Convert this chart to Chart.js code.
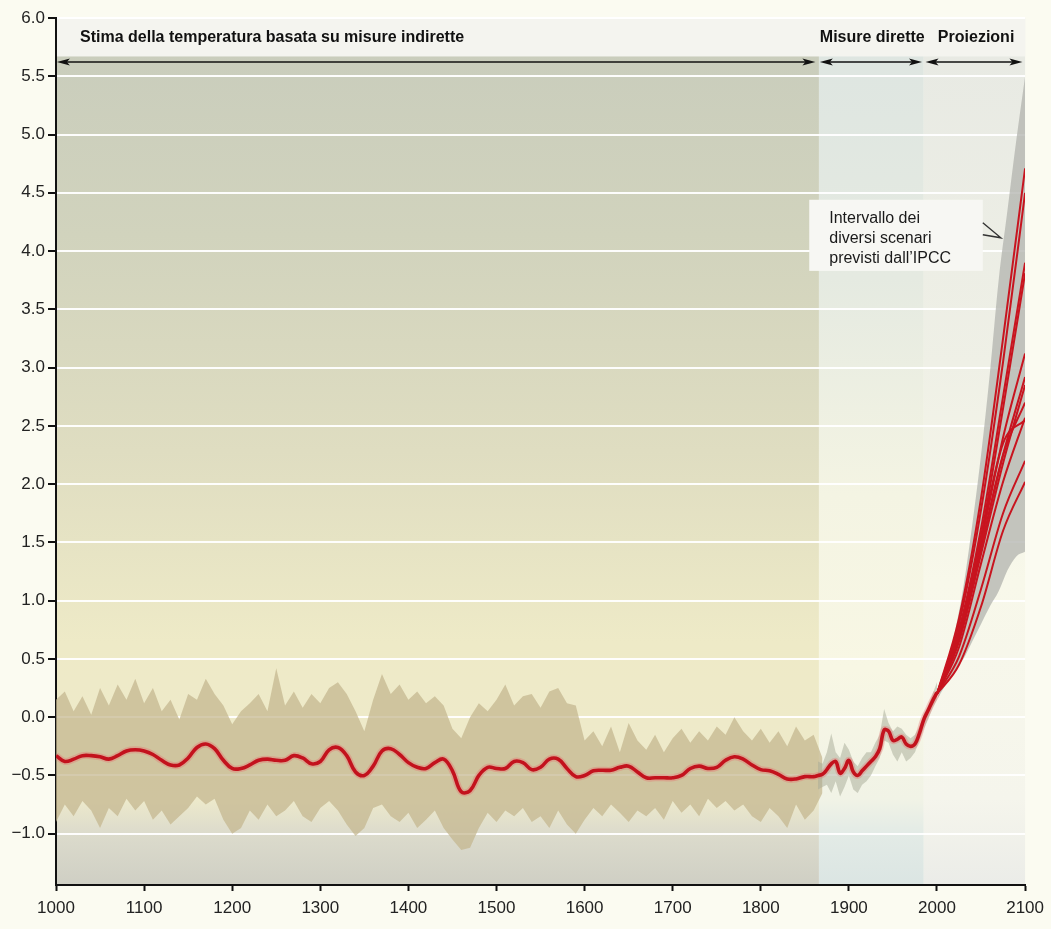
<!DOCTYPE html>
<html>
<head>
<meta charset="utf-8">
<script src="https://cdn.jsdelivr.net/npm/chart.js@4.4.1/dist/chart.umd.min.js"></script>
<style>
  html, body { margin: 0; padding: 0; background: #fbfbf1; }
  canvas { display: block; }
</style>
</head>
<body>
<canvas id="tempChart" width="1051" height="929"></canvas>
<script>
// Proxy reconstruction envelope (decadal)
const proxyYears = [1000, 1010, 1020, 1030, 1040, 1050, 1060, 1070, 1080, 1090,
  1100, 1110, 1120, 1130, 1140, 1150, 1160, 1170, 1180, 1190,
  1200, 1210, 1220, 1230, 1240, 1250, 1260, 1270, 1280, 1290,
  1300, 1310, 1320, 1330, 1340, 1350, 1360, 1370, 1380, 1390,
  1400, 1410, 1420, 1430, 1440, 1450, 1460, 1470, 1480, 1490,
  1500, 1510, 1520, 1530, 1540, 1550, 1560, 1570, 1580, 1590,
  1600, 1610, 1620, 1630, 1640, 1650, 1660, 1670, 1680, 1690,
  1700, 1710, 1720, 1730, 1740, 1750, 1760, 1770, 1780, 1790,
  1800, 1810, 1820, 1830, 1840, 1850, 1860, 1870];
const proxyUpper = [0.15, 0.22, 0.05, 0.18, 0.02, 0.25, 0.10, 0.28, 0.15, 0.33,
  0.12, 0.25, 0.05, 0.15, -0.02, 0.20, 0.15, 0.33, 0.20, 0.10,
  -0.06, 0.05, 0.12, 0.20, 0.05, 0.42, 0.10, 0.22, 0.08, 0.20,
  0.12, 0.25, 0.30, 0.20, 0.05, -0.12, 0.15, 0.37, 0.20, 0.28,
  0.15, 0.22, 0.12, 0.18, 0.10, -0.10, -0.18, 0.00, 0.12, 0.05,
  0.15, 0.28, 0.10, 0.18, 0.20, 0.08, 0.22, 0.25, 0.12, 0.10,
  -0.20, -0.12, -0.25, -0.08, -0.30, -0.05, -0.20, -0.28, -0.15, -0.30,
  -0.18, -0.10, -0.22, -0.12, -0.20, -0.08, -0.15, 0.00, -0.12, -0.20,
  -0.10, -0.22, -0.12, -0.25, -0.08, -0.20, -0.15, -0.35];
const proxyLower = [-0.90, -0.75, -0.85, -0.72, -0.80, -0.95, -0.78, -0.85, -0.70, -0.80,
  -0.72, -0.88, -0.80, -0.92, -0.85, -0.78, -0.68, -0.75, -0.70, -0.88,
  -1.00, -0.95, -0.80, -0.88, -0.75, -0.85, -0.80, -0.72, -0.85, -0.90,
  -0.78, -0.72, -0.80, -0.92, -1.02, -0.95, -0.78, -0.75, -0.85, -0.90,
  -0.82, -0.95, -0.88, -0.80, -0.95, -1.05, -1.14, -1.12, -0.95, -0.82,
  -0.90, -0.80, -0.85, -0.78, -0.90, -0.85, -0.95, -0.80, -0.92, -1.00,
  -0.88, -0.78, -0.85, -0.75, -0.82, -0.90, -0.80, -0.85, -0.78, -0.88,
  -0.72, -0.82, -0.75, -0.85, -0.70, -0.78, -0.72, -0.80, -0.75, -0.85,
  -0.90, -0.78, -0.85, -0.95, -0.75, -0.88, -0.80, -0.65];

// Instrumental variability band
const instYears = [1865, 1870, 1875, 1880, 1885, 1890, 1895, 1900, 1905, 1910,
  1915, 1920, 1925, 1930, 1935, 1940, 1945, 1950, 1955, 1960,
  1965, 1970, 1975, 1980, 1985, 1990, 1995, 2000];
const instUpper = [-0.38, -0.40, -0.30, -0.14, -0.30, -0.35, -0.22, -0.28, -0.38, -0.42,
  -0.35, -0.30, -0.30, -0.22, -0.15, 0.07, -0.05, -0.12, -0.08, -0.10,
  -0.15, -0.18, -0.15, -0.08, 0.03, 0.10, 0.20, 0.30];
const instLower = [-0.62, -0.60, -0.58, -0.65, -0.55, -0.68, -0.60, -0.50, -0.62, -0.65,
  -0.58, -0.55, -0.50, -0.42, -0.35, -0.20, -0.22, -0.32, -0.38, -0.30,
  -0.38, -0.35, -0.30, -0.20, -0.10, -0.02, 0.08, 0.15];

// Smoothed temperature curve
const lineYears = [1000, 1010, 1020, 1030, 1040, 1050, 1060, 1070, 1080, 1090,
  1100, 1110, 1120, 1130, 1140, 1150, 1160, 1170, 1180, 1190,
  1200, 1210, 1220, 1230, 1240, 1250, 1260, 1270, 1280, 1290,
  1300, 1310, 1320, 1330, 1340, 1350, 1360, 1370, 1380, 1390,
  1400, 1410, 1420, 1430, 1440, 1450, 1460, 1470, 1480, 1490,
  1500, 1510, 1520, 1530, 1540, 1550, 1560, 1570, 1580, 1590,
  1600, 1610, 1620, 1630, 1640, 1650, 1660, 1670, 1680, 1690,
  1700, 1710, 1720, 1730, 1740, 1750, 1760, 1770, 1780, 1790,
  1800, 1810, 1820, 1830, 1840, 1850, 1860, 1865, 1870, 1875,
  1880, 1885, 1890, 1895, 1900, 1905, 1910, 1915, 1920, 1925,
  1930, 1935, 1940, 1945, 1950, 1955, 1960, 1965, 1970, 1975,
  1980, 1985, 1990, 1995, 2000];
const lineTemp = [-0.33, -0.38, -0.36, -0.33, -0.33, -0.34, -0.36, -0.33, -0.29, -0.28,
  -0.29, -0.32, -0.37, -0.41, -0.41, -0.35, -0.26, -0.23, -0.27, -0.37,
  -0.44, -0.44, -0.41, -0.37, -0.36, -0.37, -0.37, -0.33, -0.35, -0.40,
  -0.38, -0.28, -0.26, -0.33, -0.47, -0.50, -0.42, -0.29, -0.27, -0.32,
  -0.39, -0.43, -0.44, -0.39, -0.36, -0.46, -0.64, -0.63, -0.50, -0.43,
  -0.44, -0.44, -0.38, -0.39, -0.45, -0.43, -0.36, -0.36, -0.44, -0.51,
  -0.50, -0.46, -0.455, -0.455, -0.43, -0.42, -0.47, -0.52, -0.52, -0.52,
  -0.52, -0.50, -0.44, -0.42, -0.44, -0.43, -0.37, -0.34, -0.36, -0.41,
  -0.45, -0.46, -0.49, -0.53, -0.53, -0.51, -0.51, -0.50, -0.49, -0.45,
  -0.40, -0.38, -0.48, -0.44, -0.37, -0.47, -0.50, -0.46, -0.42, -0.38,
  -0.34, -0.27, -0.11, -0.12, -0.20, -0.19, -0.17, -0.23, -0.25, -0.23,
  -0.14, -0.02, 0.06, 0.14, 0.21];

// IPCC projections
const projYears = [2000, 2025, 2050, 2075, 2100];
const scenarios = [
  [0.2, 0.85, 1.88, 3.25, 4.71],
  [0.2, 0.80, 1.78, 3.05, 4.50],
  [0.2, 0.75, 1.62, 2.75, 3.90],
  [0.2, 0.72, 1.55, 2.65, 3.81],
  [0.2, 0.70, 1.50, 2.40, 3.12],
  [0.2, 0.68, 1.45, 2.25, 2.92],
  [0.2, 0.65, 1.40, 2.18, 2.85],
  [0.2, 0.66, 1.45, 2.25, 2.70],
  [0.2, 0.60, 1.32, 2.02, 2.57],
  [0.2, 0.70, 1.55, 2.35, 2.55],
  [0.2, 0.52, 1.10, 1.75, 2.20],
  [0.2, 0.45, 0.95, 1.60, 2.02]
];
const rangeYears = [2000, 2010, 2020, 2030, 2040, 2050, 2060, 2070, 2080, 2090, 2100];
const rangeHigh = [0.15, 0.40, 0.72, 1.12, 1.65, 2.25, 2.95, 3.75, 4.35, 4.95, 5.50];
const rangeLow = [0.15, 0.28, 0.40, 0.50, 0.65, 0.80, 0.95, 1.08, 1.26, 1.38, 1.42];

const yTicks = [-1.0, -0.5, 0.0, 0.5, 1.0, 1.5, 2.0, 2.5, 3.0, 3.5, 4.0, 4.5, 5.0, 5.5, 6.0];

const FONT = '"Liberation Sans", Arial, sans-serif';
const pts = (xs, ys) => xs.map((v, i) => ({ x: v, y: ys[i] }));
const none = 'rgba(0,0,0,0)';

// background zones (years) with vertical colour gradients
const zones = [
  { from: 1000, to: 1866, stops: [[0, '#c8ccbc'], [0.25, '#d1d3bd'], [0.5, '#dfddc1'], [0.72, '#eeeac7'], [0.9, '#eeeacb'], [0.94, '#dcdbcc'], [1, '#cfcfc4']] },
  { from: 1866, to: 1985, stops: [[0, '#dde5e1'], [0.3, '#e5eae1'], [0.55, '#f4f4e3'], [0.75, '#f8f7e4'], [0.9, '#f1f3e6'], [0.94, '#e3ebe6'], [1, '#dbe5e3']] },
  { from: 1985, to: 2100, stops: [[0, '#e7e9e3'], [0.4, '#eff0e6'], [0.65, '#f8f8ea'], [0.9, '#f5f5ec'], [1, '#ebece8']] }
];

function arrow(ctx, x0, x1, y) {
  ctx.beginPath();
  ctx.moveTo(x0 + 6, y);
  ctx.lineTo(x1 - 6, y);
  ctx.stroke();
  [[x0, 1], [x1, -1]].forEach(([px, d]) => {
    ctx.beginPath();
    ctx.moveTo(px, y);
    ctx.lineTo(px + d * 13, y - 3.5);
    ctx.lineTo(px + d * 10, y);
    ctx.lineTo(px + d * 13, y + 3.5);
    ctx.closePath();
    ctx.fill();
  });
}

const decor = {
  id: 'decor',
  beforeDraw(chart) {
    const { ctx, chartArea: a, scales: { x, y } } = chart;
    ctx.save();
    ctx.fillStyle = '#fbfbf1';
    ctx.fillRect(0, 0, chart.width, chart.height);
    zones.forEach(z => {
      const x0 = x.getPixelForValue(z.from), x1 = x.getPixelForValue(z.to);
      const g = ctx.createLinearGradient(0, a.top, 0, a.bottom);
      z.stops.forEach(s => g.addColorStop(s[0], s[1]));
      ctx.fillStyle = g;
      ctx.fillRect(x0, a.top, x1 - x0, a.bottom - a.top);
    });
    // header strip
    ctx.fillStyle = '#f4f4ef';
    ctx.fillRect(a.left, a.top, a.right - a.left, y.getPixelForValue(5.67) - a.top);
    ctx.restore();
  },
  afterDraw(chart) {
    const { ctx, chartArea: a, scales: { x, y } } = chart;
    ctx.save();
    ctx.fillStyle = '#111';
    ctx.font = 'bold 16px ' + FONT;
    ctx.textBaseline = 'middle';
    ctx.fillText('Stima della temperatura basata su misure indirette', a.left + 24, a.top + 20);
    ctx.fillText('Misure dirette', x.getPixelForValue(1867), a.top + 20);
    ctx.fillText('Proiezioni', x.getPixelForValue(2001), a.top + 20);

    ctx.strokeStyle = '#111';
    ctx.lineWidth = 1.6;
    const ay = a.top + 44;
    arrow(ctx, x.getPixelForValue(1001), x.getPixelForValue(1862), ay);
    arrow(ctx, x.getPixelForValue(1867), x.getPixelForValue(1983), ay);
    arrow(ctx, x.getPixelForValue(1987), x.getPixelForValue(2097), ay);

    // annotation box
    const bx0 = x.getPixelForValue(1855), bx1 = x.getPixelForValue(2052);
    const by0 = y.getPixelForValue(4.44), by1 = y.getPixelForValue(3.83);
    ctx.fillStyle = '#f7f7f3';
    ctx.fillRect(bx0, by0, bx1 - bx0, by1 - by0);
    ctx.save();
    ctx.beginPath();
    ctx.rect(bx0, by0, bx1 - bx0, by1 - by0);
    ctx.clip();
    ctx.fillStyle = '#1a1a1a';
    ctx.font = '16px ' + FONT;
    ctx.textBaseline = 'middle';
    ['Intervallo dei', 'diversi scenari', 'previsti dall\u2019IPCC'].forEach((t, i) => {
      ctx.fillText(t, bx0 + 20, by0 + 19 + i * 20);
    });
    ctx.restore();
    ctx.strokeStyle = '#333';
    ctx.lineWidth = 1.4;
    ctx.beginPath();
    ctx.moveTo(bx1, by0 + 23);
    ctx.lineTo(bx1 + 18, by0 + 38);
    ctx.lineTo(bx1, by0 + 35);
    ctx.stroke();
    ctx.restore();
  }
};

const datasets = [
  { data: pts(lineYears, lineTemp), borderColor: '#c3121d', borderWidth: 3.6, tension: 0.4, fill: false, order: 0 },
  { data: pts(lineYears, lineTemp), borderColor: 'rgba(232,110,110,0.35)', borderWidth: 7, tension: 0.4, fill: false, order: 1 }
];
scenarios.forEach(s => {
  datasets.push({ data: pts(projYears, s), borderColor: '#c8141f', borderWidth: 2, cubicInterpolationMode: 'monotone', fill: false, order: 2 });
});
const bandStart = datasets.length;
datasets.push(
  { data: pts(instYears, instUpper), borderColor: none, borderWidth: 0, tension: 0, fill: { target: bandStart + 1 }, backgroundColor: 'rgba(165,170,150,0.5)', order: 3 },
  { data: pts(instYears, instLower), borderColor: none, borderWidth: 0, tension: 0, fill: false, order: 3 },
  { data: pts(proxyYears, proxyUpper), borderColor: none, borderWidth: 0, tension: 0, fill: { target: bandStart + 3 }, backgroundColor: 'rgba(196,181,142,0.72)', order: 4 },
  { data: pts(proxyYears, proxyLower), borderColor: none, borderWidth: 0, tension: 0, fill: false, order: 4 },
  { data: pts(rangeYears, rangeHigh), borderColor: none, borderWidth: 0, cubicInterpolationMode: 'monotone', fill: { target: bandStart + 5 }, backgroundColor: 'rgba(178,179,174,0.75)', order: 5 },
  { data: pts(rangeYears, rangeLow), borderColor: none, borderWidth: 0, cubicInterpolationMode: 'monotone', fill: false, order: 5 }
);

new Chart(document.getElementById('tempChart'), {
  type: 'line',
  data: { datasets },
  options: {
    responsive: false,
    animation: false,
    layout: { padding: { top: 18, right: 23, left: 0, bottom: 0 } },
    elements: { point: { radius: 0 } },
    plugins: { legend: { display: false }, tooltip: { enabled: false } },
    scales: {
      x: {
        type: 'linear', min: 1000, max: 2100,
        ticks: { stepSize: 100, color: '#222', font: { size: 17, family: FONT }, padding: 7, callback: v => String(v) },
        grid: { drawOnChartArea: false, color: '#111', tickLength: 6, tickWidth: 2 },
        border: { color: '#111', width: 2 },
        afterFit(s) { s.height = 44; }
      },
      y: {
        min: -1.44, max: 6.0,
        ticks: { color: '#222', font: { size: 17, family: FONT }, padding: 3, callback: v => v.toFixed(1).replace('-', '\u2212') },
        afterBuildTicks(s) { s.ticks = yTicks.map(v => ({ value: v })); },
        grid: { color: 'rgba(255,255,255,0.95)', lineWidth: 2, tickColor: '#111', tickLength: 8, tickWidth: 2 },
        border: { color: '#111', width: 2 },
        afterFit(s) { s.width = 56; }
      }
    }
  },
  plugins: [decor]
});
</script>
</body>
</html>
